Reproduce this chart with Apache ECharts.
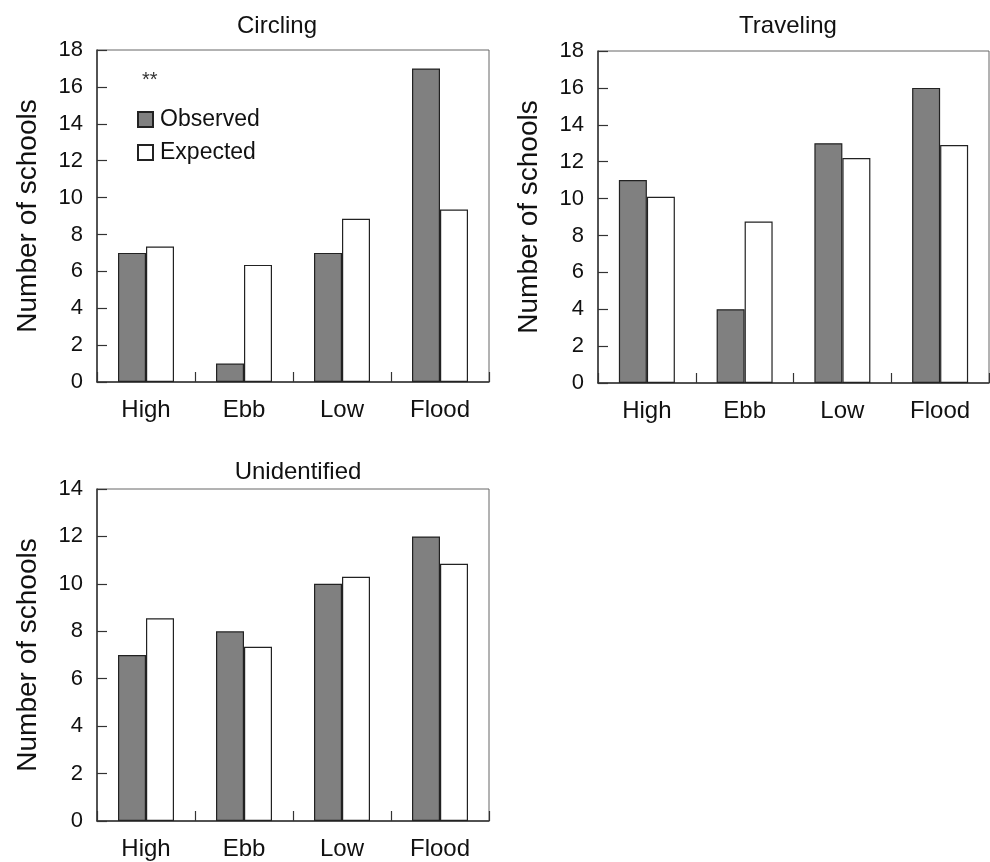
<!DOCTYPE html>
<html>
<head>
<meta charset="utf-8">
<script src="https://cdn.jsdelivr.net/npm/echarts@6/dist/echarts.min.js"></script>
<style>
  html, body { margin: 0; padding: 0; background: #fff; }
  #chart { width: 990px; height: 862px; }
</style>
</head>
<body>
<div id="chart"></div>
<script>
var categories = ['High', 'Ebb', 'Low', 'Flood'];

var circlingObserved = [7, 1, 7, 17];
var circlingExpected = [7.35, 6.35, 8.85, 9.35];

var travelingObserved = [11, 4, 13, 16];
var travelingExpected = [10.1, 8.75, 12.2, 12.9];

var unidentifiedObserved = [7, 8, 10, 12];
var unidentifiedExpected = [8.55, 7.35, 10.3, 10.85];

var panelTitles = ['Circling', 'Traveling', 'Unidentified'];
var yMax = [18, 18, 14];

var chartDom = document.getElementById('chart');
var myChart = echarts.init(chartDom);
var font = 'Liberation Sans, Arial, sans-serif';

function xAxis(i) {
  return {
    type: 'category',
    gridIndex: i,
    data: categories,
    axisLine: { show: true, lineStyle: { color: '#333', width: 1.5 } },
    axisTick: { show: true, alignWithLabel: false, inside: true, length: 10, lineStyle: { color: '#333', width: 1.2 } },
    axisLabel: { fontSize: 24, color: '#111', fontFamily: font, margin: 16 }
  };
}
function yAxis(i) {
  return {
    type: 'value',
    gridIndex: i,
    min: 0,
    max: yMax[i],
    interval: 2,
    name: 'Number of schools',
    nameLocation: 'middle',
    nameRotate: 90,
    nameGap: 55,
    nameTextStyle: { fontSize: 28, color: '#111', fontFamily: font },
    axisLine: { show: true, lineStyle: { color: '#333', width: 1.5 } },
    axisTick: { show: true, inside: true, length: 10, lineStyle: { color: '#333', width: 1.2 } },
    axisLabel: { fontSize: 22, color: '#111', fontFamily: font, margin: 14 },
    splitLine: { show: false }
  };
}
function bar(name, i, data, color) {
  return {
    name: name,
    type: 'bar',
    xAxisIndex: i,
    yAxisIndex: i,
    data: data,
    barWidth: 28,
    barGap: '0%',
    itemStyle: { color: color, borderColor: '#222', borderWidth: 1.2 }
  };
}

var gridBox = { show: true, borderColor: '#666', borderWidth: 1, backgroundColor: 'transparent' };
var titleStyle = { fontSize: 24, fontWeight: 'normal', color: '#111', fontFamily: font };

var option = {
  animation: false,
  backgroundColor: '#fff',
  title: [
    { text: panelTitles[0], left: 272, top: 9, textAlign: 'center', textStyle: titleStyle },
    { text: panelTitles[1], left: 783, top: 9, textAlign: 'center', textStyle: titleStyle },
    { text: panelTitles[2], left: 293, top: 455, textAlign: 'center', textStyle: titleStyle }
  ],
  legend: {
    data: ['Observed', 'Expected'],
    orient: 'vertical',
    left: 132,
    top: 103,
    itemWidth: 15,
    itemHeight: 15,
    itemGap: 10,
    icon: 'rect',
    selectedMode: false,
    textStyle: { fontSize: 23, color: '#111', fontFamily: font, padding: [0, 0, 0, 2] }
  },
  graphic: [
    { type: 'text', left: 142, top: 70, style: { text: '**', fontSize: 20, fill: '#333', fontFamily: font } }
  ],
  grid: [
    Object.assign({ left: 97, top: 50, width: 392, height: 332 }, gridBox),
    Object.assign({ left: 598, top: 51, width: 391, height: 332 }, gridBox),
    Object.assign({ left: 97, top: 489, width: 392, height: 332 }, gridBox)
  ],
  xAxis: [xAxis(0), xAxis(1), xAxis(2)],
  yAxis: [yAxis(0), yAxis(1), yAxis(2)],
  series: [
    bar('Observed', 0, circlingObserved, '#808080'),
    bar('Expected', 0, circlingExpected, '#ffffff'),
    bar('Observed', 1, travelingObserved, '#808080'),
    bar('Expected', 1, travelingExpected, '#ffffff'),
    bar('Observed', 2, unidentifiedObserved, '#808080'),
    bar('Expected', 2, unidentifiedExpected, '#ffffff')
  ]
};
option && myChart.setOption(option);
</script>
</body>
</html>
